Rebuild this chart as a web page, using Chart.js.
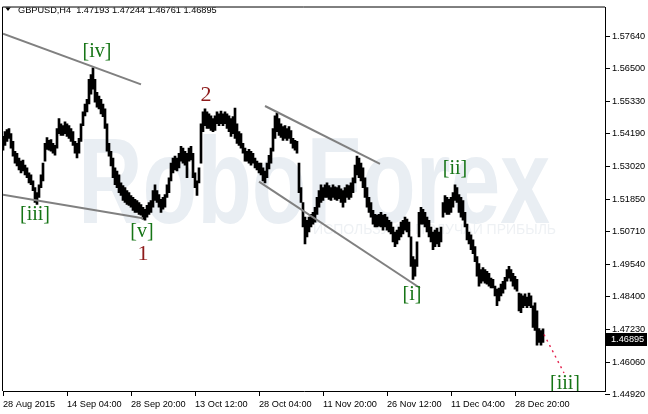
<!DOCTYPE html>
<html>
<head>
<meta charset="utf-8">
<script src="https://cdn.jsdelivr.net/npm/chart.js@4.4.1/dist/chart.umd.min.js"></script>
<style>
  html, body { margin: 0; padding: 0; background: #fff; }
  #wrap { width: 648px; height: 414px; }
</style>
</head>
<body>
<div id="wrap"><canvas id="c" width="648" height="414"></canvas></div>
<script>
// GBPUSD, H4 — price path with wave count
const symbol = 'GBPUSD,H4';
const lastBar = { open: 1.47193, high: 1.47244, low: 1.46761, close: 1.46895 };

// each entry spans two H4 bars
const BAR_STEP = 2;

const highs = [
  1.5408,1.5425,1.5432,1.5436,1.5418,1.5390,1.5355,1.5348,1.5331,1.5320,
  1.5324,1.5306,1.5296,1.5278,1.5271,1.5250,1.5226,1.5208,1.5236,1.5271,
  1.5313,1.5383,1.5404,1.5394,1.5397,1.5383,1.5376,1.5436,1.5471,1.5453,
  1.5446,1.5460,1.5453,1.5446,1.5436,1.5425,1.5390,1.5383,1.5401,1.5453,
  1.5495,1.5523,1.5540,1.5611,1.5628,1.5652,1.5611,1.5565,1.5551,1.5540,
  1.5523,1.5506,1.5453,1.5383,1.5355,1.5331,1.5296,1.5285,1.5271,1.5243,
  1.5233,1.5226,1.5215,1.5208,1.5198,1.5191,1.5184,1.5180,1.5173,1.5166,
  1.5156,1.5149,1.5163,1.5173,1.5180,1.5215,1.5236,1.5215,1.5201,1.5184,
  1.5191,1.5201,1.5236,1.5261,1.5313,1.5331,1.5338,1.5331,1.5348,1.5373,
  1.5366,1.5355,1.5348,1.5366,1.5373,1.5348,1.5278,1.5250,1.5296,1.5453,
  1.5495,1.5506,1.5495,1.5488,1.5481,1.5471,1.5481,1.5495,1.5488,1.5498,
  1.5488,1.5495,1.5488,1.5481,1.5471,1.5478,1.5509,1.5453,1.5425,1.5418,
  1.5383,1.5366,1.5355,1.5362,1.5355,1.5348,1.5331,1.5320,1.5313,1.5313,
  1.5296,1.5285,1.5313,1.5341,1.5366,1.5436,1.5481,1.5491,1.5471,1.5453,
  1.5443,1.5446,1.5436,1.5443,1.5429,1.5401,1.5394,1.5390,1.5313,1.5226,
  1.5173,1.5121,1.5110,1.5121,1.5131,1.5138,1.5156,1.5191,1.5215,1.5236,
  1.5226,1.5236,1.5243,1.5233,1.5226,1.5236,1.5229,1.5226,1.5233,1.5222,
  1.5215,1.5226,1.5236,1.5233,1.5243,1.5261,1.5306,1.5338,1.5331,1.5313,
  1.5296,1.5261,1.5226,1.5191,1.5173,1.5145,1.5131,1.5128,1.5131,1.5138,
  1.5128,1.5131,1.5121,1.5110,1.5103,1.5086,1.5068,1.5075,1.5086,1.5103,
  1.5110,1.5121,1.5114,1.5103,1.5051,1.4981,1.4970,1.5033,1.5138,1.5156,
  1.5149,1.5138,1.5121,1.5110,1.5086,1.5068,1.5075,1.5082,1.5068,1.5086,
  1.5173,1.5198,1.5191,1.5184,1.5191,1.5208,1.5236,1.5226,1.5201,1.5191,
  1.5180,1.5138,1.5096,1.5068,1.5058,1.5040,1.5016,1.4981,1.4956,1.4935,
  1.4942,1.4935,1.4928,1.4921,1.4904,1.4900,1.4876,1.4865,1.4869,1.4883,
  1.4893,1.4907,1.4935,1.4946,1.4935,1.4921,1.4911,1.4900,1.4851,1.4848,
  1.4841,1.4848,1.4837,1.4851,1.4841,1.4806,1.4816,1.4788,1.4725,1.4718,
  1.47244
];

const lows = [
  1.5359,1.5376,1.5390,1.5401,1.5366,1.5338,1.5313,1.5303,1.5289,1.5278,
  1.5285,1.5271,1.5261,1.5243,1.5236,1.5215,1.5173,1.5166,1.5191,1.5226,
  1.5250,1.5320,1.5362,1.5359,1.5355,1.5348,1.5341,1.5366,1.5418,1.5411,
  1.5411,1.5418,1.5408,1.5401,1.5390,1.5376,1.5348,1.5331,1.5348,1.5390,
  1.5446,1.5481,1.5495,1.5523,1.5558,1.5576,1.5530,1.5512,1.5506,1.5488,
  1.5478,1.5436,1.5355,1.5338,1.5303,1.5261,1.5236,1.5226,1.5208,1.5198,
  1.5180,1.5173,1.5166,1.5163,1.5156,1.5145,1.5138,1.5138,1.5131,1.5128,
  1.5114,1.5110,1.5121,1.5131,1.5138,1.5156,1.5180,1.5173,1.5156,1.5138,
  1.5149,1.5156,1.5191,1.5208,1.5250,1.5278,1.5289,1.5285,1.5296,1.5320,
  1.5313,1.5306,1.5261,1.5320,1.5324,1.5261,1.5226,1.5198,1.5243,1.5313,
  1.5425,1.5446,1.5436,1.5436,1.5429,1.5425,1.5429,1.5453,1.5446,1.5453,
  1.5446,1.5453,1.5436,1.5425,1.5408,1.5418,1.5401,1.5383,1.5376,1.5366,
  1.5348,1.5320,1.5320,1.5313,1.5306,1.5313,1.5296,1.5289,1.5278,1.5271,
  1.5250,1.5243,1.5261,1.5292,1.5313,1.5355,1.5401,1.5425,1.5411,1.5404,
  1.5394,1.5401,1.5394,1.5401,1.5383,1.5366,1.5359,1.5348,1.5208,1.5173,
  1.5086,1.5026,1.5051,1.5068,1.5086,1.5096,1.5103,1.5131,1.5156,1.5173,
  1.5180,1.5191,1.5191,1.5184,1.5180,1.5191,1.5184,1.5180,1.5187,1.5173,
  1.5156,1.5173,1.5191,1.5184,1.5191,1.5208,1.5243,1.5271,1.5261,1.5250,
  1.5226,1.5191,1.5156,1.5138,1.5121,1.5096,1.5086,1.5086,1.5089,1.5086,
  1.5075,1.5086,1.5075,1.5068,1.5061,1.5033,1.5016,1.5026,1.5040,1.5051,
  1.5061,1.5075,1.5068,1.5051,1.4946,1.4900,1.4911,1.4946,1.5051,1.5096,
  1.5096,1.5086,1.5068,1.5051,1.5033,1.5005,1.5016,1.5026,1.5016,1.5033,
  1.5121,1.5138,1.5131,1.5131,1.5138,1.5156,1.5180,1.5173,1.5138,1.5121,
  1.5110,1.5086,1.5040,1.5026,1.5005,1.4991,1.4963,1.4911,1.4876,1.4886,
  1.4893,1.4886,1.4883,1.4876,1.4869,1.4869,1.4841,1.4806,1.4823,1.4841,
  1.4851,1.4865,1.4893,1.4904,1.4893,1.4876,1.4865,1.4858,1.4788,1.4781,
  1.4799,1.4806,1.4799,1.4806,1.4799,1.4729,1.4718,1.4666,1.4676,1.4666,
  1.46761
];

// time axis: bar number -> label
const timeTickBars = [0, 64, 128, 192, 256, 320, 384, 448, 512];
const timeTickLabels = ['28 Aug 2015', '14 Sep 04:00', '28 Sep 20:00', '13 Oct 12:00',
  '28 Oct 04:00', '11 Nov 20:00', '26 Nov 12:00', '11 Dec 04:00', '28 Dec 20:00'];

const priceTicks = [1.5764, 1.5650, 1.5533, 1.5419, 1.5302, 1.5185, 1.5071,
  1.4954, 1.4840, 1.4723, 1.4606, 1.4492];

// trend lines: [bar, price] pairs
const trendFrom = [[0, 1.5773], [0, 1.5201], [262, 1.5516], [256, 1.5247]];
const trendTo   = [[138, 1.5593], [140, 1.5117], [377, 1.5310], [417, 1.4869]];

// projected path of wave [iii]
const projFrom = [541, 1.4704];
const projTo   = [561, 1.4567];

// wave labels
const waveText  = ['[iv]', '[iii]', '[v]', '1', '2', '[i]', '[ii]', '[iii]'];
const waveBar   = [94, 32, 139, 140, 203, 409, 452, 562];
const wavePrice = [1.5709, 1.5128, 1.5068, 1.4988, 1.5555, 1.4844, 1.5292, 1.4529];
const waveMajor = [false, false, false, true, true, false, false, false];

const brandText = 'RoboForex';
const brandSub = 'используй – получай прибыль';

const FONT = '"Liberation Sans", Arial, sans-serif';
const AXIS_FONT = { family: FONT, size: 9.2 };

const bars = highs.map((h, i) => ({ x: i * BAR_STEP, y: [lows[i], h] }));

const decor = {
  id: 'decor',
  beforeDatasetsDraw(chart) {
    const { ctx, chartArea: a } = chart;
    ctx.save();
    ctx.beginPath();
    ctx.rect(a.left, a.top, a.right - a.left, a.bottom - a.top);
    ctx.clip();
    // background brand mark
    ctx.fillStyle = '#e9eef3';
    ctx.font = 'bold 123px ' + FONT;
    ctx.textBaseline = 'alphabetic';
    ctx.textAlign = 'left';
    const w = ctx.measureText(brandText).width;
    ctx.save();
    ctx.translate(78, 223);
    ctx.scale(472 / w, 1);
    ctx.fillText(brandText, 0, 0);
    ctx.restore();
    ctx.fillStyle = '#eef1f4';
    ctx.font = '14px ' + FONT;
    ctx.textAlign = 'right';
    ctx.fillText(brandSub.toUpperCase(), 556, 234);
    ctx.restore();
  },
  afterDatasetsDraw(chart) {
    const { ctx, chartArea: a, scales: { x, y } } = chart;
    ctx.save();
    ctx.beginPath();
    ctx.rect(a.left, a.top, a.right - a.left, a.bottom - a.top);
    ctx.clip();

    ctx.strokeStyle = '#808080';
    ctx.lineWidth = 2;
    trendFrom.forEach((f, i) => {
      const t = trendTo[i];
      ctx.beginPath();
      ctx.moveTo(x.getPixelForValue(f[0]), y.getPixelForValue(f[1]));
      ctx.lineTo(x.getPixelForValue(t[0]), y.getPixelForValue(t[1]));
      ctx.stroke();
    });

    ctx.strokeStyle = '#e3204c';
    ctx.lineWidth = 1.4;
    ctx.setLineDash([2, 4]);
    ctx.beginPath();
    ctx.moveTo(x.getPixelForValue(projFrom[0]), y.getPixelForValue(projFrom[1]));
    ctx.lineTo(x.getPixelForValue(projTo[0]), y.getPixelForValue(projTo[1]));
    ctx.stroke();
    ctx.setLineDash([]);

    ctx.textAlign = 'center';
    ctx.textBaseline = 'middle';
    waveText.forEach((t, i) => {
      const major = waveMajor[i];
      ctx.font = (major ? '22px ' : '20px ') + '"Liberation Serif", "DejaVu Serif", serif';
      ctx.fillStyle = major ? '#8e1b1b' : '#167516';
      ctx.fillText(t, x.getPixelForValue(waveBar[i]), y.getPixelForValue(wavePrice[i]));
    });

    // symbol header
    ctx.fillStyle = '#000';
    ctx.beginPath();
    ctx.moveTo(5, 7); ctx.lineTo(11, 7); ctx.lineTo(8, 11); ctx.closePath();
    ctx.fill();
    ctx.font = '9.2px ' + FONT;
    ctx.textAlign = 'left';
    ctx.textBaseline = 'middle';
    const hdr = symbol + '  ' + [lastBar.open, lastBar.high, lastBar.low, lastBar.close]
      .map(v => v.toFixed(5)).join(' ');
    ctx.fillText(hdr, 18, 10);
    ctx.restore();
  },
  afterDraw(chart) {
    const { ctx, chartArea: a, scales: { y } } = chart;
    ctx.save();
    ctx.strokeStyle = '#000';
    ctx.lineWidth = 1;
    ctx.beginPath();
    ctx.moveTo(a.left - 0.5, a.bottom);
    ctx.lineTo(a.left - 0.5, a.top - 0.5);
    ctx.lineTo(a.right, a.top - 0.5);
    ctx.stroke();
    // tick for the price level that falls just below the frame
    const lowTick = Math.round(y.getPixelForValue(priceTicks[priceTicks.length - 1])) + 0.5;
    ctx.beginPath();
    ctx.moveTo(a.right, lowTick);
    ctx.lineTo(a.right + 5, lowTick);
    ctx.stroke();
    // last price marker
    const cy = Math.round(y.getPixelForValue(lastBar.close));
    ctx.fillStyle = '#000';
    ctx.fillRect(a.right + 1, cy - 6, 41, 13);
    ctx.fillStyle = '#fff';
    ctx.font = '9.2px ' + FONT;
    ctx.textAlign = 'left';
    ctx.textBaseline = 'middle';
    ctx.fillText(lastBar.close.toFixed(5), a.right + 6, cy + 0.5);
    ctx.restore();
  }
};

new Chart(document.getElementById('c'), {
  type: 'bar',
  data: {
    datasets: [{
      data: bars,
      backgroundColor: '#000',
      borderWidth: 0,
      barThickness: 2,
      grouped: false
    }]
  },
  options: {
    responsive: false,
    devicePixelRatio: 1,
    animation: false,
    layout: { padding: { left: 3, top: 2, right: 0, bottom: 0 } },
    plugins: { legend: { display: false }, tooltip: { enabled: false } },
    scales: {
      x: {
        type: 'linear',
        min: 0,
        max: 602,
        offset: false,
        afterBuildTicks(s) { s.ticks = timeTickBars.map(v => ({ value: v })); },
        afterFit(s) { s.height = 23; },
        ticks: {
          autoSkip: false,
          maxRotation: 0,
          align: 'start',
          padding: 3,
          color: '#000',
          font: AXIS_FONT,
          callback: v => timeTickLabels[timeTickBars.indexOf(v)]
        },
        grid: { drawOnChartArea: false, offset: false, tickLength: 5, color: '#000' },
        border: { display: true, color: '#000' }
      },
      y: {
        type: 'linear',
        position: 'right',
        min: 1.4503,
        max: 1.5866,
        afterBuildTicks(s) { s.ticks = priceTicks.map(v => ({ value: v })); },
        afterFit(s) { s.width = 43; },
        ticks: {
          autoSkip: false,
          padding: 2,
          color: '#000',
          font: AXIS_FONT,
          callback: v => v.toFixed(5)
        },
        grid: { drawOnChartArea: false, tickLength: 5, color: '#000' },
        border: { display: true, color: '#000' }
      }
    }
  },
  plugins: [decor]
});
</script>
</body>
</html>
